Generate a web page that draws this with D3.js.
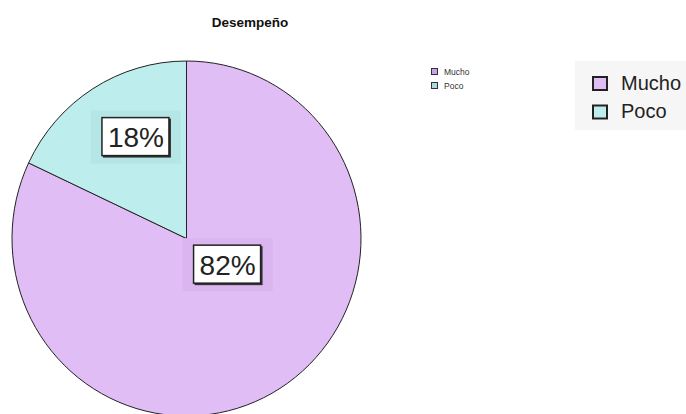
<!DOCTYPE html>
<html>
<head>
<meta charset="utf-8">
<script src="https://cdn.jsdelivr.net/npm/d3@7"></script>
<style>
  html, body { margin: 0; padding: 0; background: #ffffff; }
  svg { display: block; font-family: "Liberation Sans", Arial, sans-serif; }
</style>
</head>
<body>
<svg id="chart" width="686" height="414"></svg>
<script>
// Chart data
const title = "Desempeño";
const categories = ["Mucho", "Poco"];
const values = [82, 18];
const labels = ["82%", "18%"];
const colors = ["#e1bdf6", "#bdeded"];
const labelShade = ["#dab5f0", "#b4e6e6"];
const legendSmallFill = ["#c9a3e6", "#a6dcdc"];

const svg = d3.select("#chart");

// Title
svg.append("text")
  .attr("x", 250).attr("y", 27)
  .attr("text-anchor", "middle")
  .attr("font-size", 13.5).attr("font-weight", "bold")
  .attr("fill", "#111")
  .text(title);

// Pie geometry
const cx = 186.5, cy = 238.5, rx = 174.5, ry = 177.5;
const pie = d3.pie().sort(null).value(d => d)(values);
const arc = d3.arc().innerRadius(0).outerRadius(rx);

const slices = svg.append("g")
  .attr("transform", `translate(${cx},${cy}) scale(1,${ry / rx})`);
slices.selectAll("path")
  .data(pie)
  .join("path")
  .attr("d", arc)
  .attr("fill", (d, i) => colors[i])
  .attr("stroke", "#222")
  .attr("stroke-width", 1)
  .attr("vector-effect", "non-scaling-stroke");

// Percentage labels: boxed, sitting on a slightly darker patch
const labelRadius = [88, 226];
const nudge = [[17.5, -11], [10, -6]];
const labelsG = svg.append("g").attr("transform", `translate(${cx},${cy})`);
pie.forEach((d, i) => {
  const a = d3.arc().innerRadius(0).outerRadius(labelRadius[i]);
  const [px, py] = a.centroid(d);
  const x = px + nudge[i][0], y = py + nudge[i][1];
  const w = 68, h = 39;
  const g = labelsG.append("g").attr("transform", `translate(${x},${y})`);
  g.append("rect")
    .attr("x", -w / 2 - 11).attr("y", -h / 2 - 7)
    .attr("width", w + 22).attr("height", h + 14)
    .attr("fill", labelShade[i]);
  g.append("rect")
    .attr("x", -w / 2 + 1).attr("y", -h / 2 + 1)
    .attr("width", w).attr("height", h)
    .attr("fill", "#333");
  g.append("rect")
    .attr("x", -w / 2).attr("y", -h / 2)
    .attr("width", w - 1).attr("height", h - 1)
    .attr("fill", "#fff")
    .attr("stroke", "#222").attr("stroke-width", 1.5);
  g.append("text")
    .attr("x", 0).attr("y", 10)
    .attr("text-anchor", "middle")
    .attr("font-size", 28)
    .attr("fill", "#222")
    .text(labels[i]);
});

// Small legend
const legS = svg.append("g").attr("transform", "translate(431,68)");
categories.forEach((c, i) => {
  const g = legS.append("g").attr("transform", `translate(0,${i * 14})`);
  g.append("rect").attr("x", 0.5).attr("y", 0.5).attr("width", 6).attr("height", 6)
    .attr("fill", legendSmallFill[i]).attr("stroke", "#333").attr("stroke-width", 1);
  g.append("text").attr("x", 13).attr("y", 7)
    .attr("font-size", 8.5).attr("fill", "#333").text(c);
});

// Large legend
svg.append("rect")
  .attr("x", 575).attr("y", 61).attr("width", 111).attr("height", 69)
  .attr("fill", "#f6f6f6");
const legL = svg.append("g").attr("transform", "translate(592,76)");
categories.forEach((c, i) => {
  const g = legL.append("g").attr("transform", `translate(0,${i * 28.5})`);
  g.append("rect").attr("x", 1).attr("y", 1).attr("width", 14).attr("height", 13)
    .attr("fill", colors[i]).attr("stroke", "#222").attr("stroke-width", 2);
  g.append("text").attr("x", 29).attr("y", 13.5)
    .attr("font-size", 20).attr("fill", "#222").text(c);
});
</script>
</body>
</html>
